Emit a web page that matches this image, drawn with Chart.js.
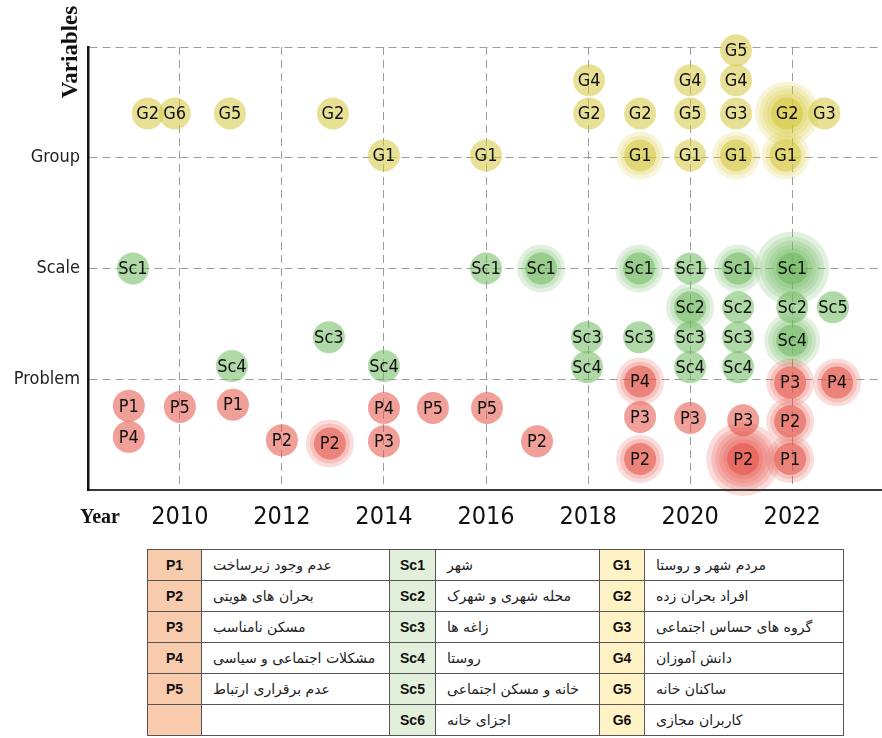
<!DOCTYPE html>
<html>
<head>
<meta charset="utf-8">
<script src="https://cdn.jsdelivr.net/npm/chart.js@4"></script>
<style>
  body { margin: 0; background: #fff; width: 882px; height: 738px; overflow: hidden; position: relative; }
  #wrap { position: absolute; left: 0; top: 0; width: 882px; height: 545px; }
  #legend { position: absolute; left: 147px; top: 549px; border-collapse: collapse; table-layout: fixed; }
  #legend td { border: 1px solid #555; height: 30px; padding: 0; }
  #legend td.code { font: bold 14px "Liberation Sans", Arial, sans-serif; text-align: center; color: #111; }
  #legend td.name { font: 14px "DejaVu Sans", sans-serif; direction: rtl; text-align: left; padding-left: 11px; color: #222; }
  #legend td.p { background: #f8cbad; }
  #legend td.sc { background: #e2efda; }
  #legend td.g { background: #fff2c4; }
</style>
</head>
<body>
<div id="wrap"><canvas id="chart"></canvas></div>
<table id="legend">
  <colgroup>
    <col style="width:54px"><col style="width:188px">
    <col style="width:46px"><col style="width:164px">
    <col style="width:45px"><col style="width:199px">
  </colgroup>
  <tbody id="legendBody"></tbody>
</table>
<script>
// y levels: 0 bottom, 1 Problem, 2 Scale, 3 Group, 4 top
const levelNames = ['', 'Problem', 'Scale', 'Group', '']
const yearTicks = [2010, 2012, 2014, 2016, 2018, 2020, 2022]

// Problem (red)
const problemLabels  = ['P1', 'P4', 'P5', 'P1', 'P2', 'P2', 'P4', 'P3', 'P5', 'P5', 'P2', 'P4', 'P3', 'P2', 'P3', 'P3', 'P2', 'P3', 'P2', 'P1', 'P4']
const problemYears   = [2009.0, 2009.0, 2010.0, 2011.04, 2012.0, 2012.94, 2014.0, 2014.0, 2014.96, 2016.02, 2017.0, 2019.02, 2019.02, 2019.02, 2020.0, 2021.04, 2021.04, 2021.96, 2021.96, 2021.96, 2022.88]
const problemLevels  = [0.76, 0.48, 0.75, 0.77, 0.45, 0.42, 0.74, 0.44, 0.74, 0.74, 0.44, 0.98, 0.66, 0.28, 0.65, 0.63, 0.28, 0.97, 0.62, 0.28, 0.97]
const problemWeights = [1, 1, 1, 1, 1, 3, 1, 1, 1, 1, 1, 3, 1, 3, 1, 1, 6, 3, 3, 3, 3]

// Scale (green)
const scaleLabels  = ['Sc1', 'Sc4', 'Sc3', 'Sc4', 'Sc1', 'Sc1', 'Sc3', 'Sc4', 'Sc1', 'Sc3', 'Sc1', 'Sc2', 'Sc3', 'Sc4', 'Sc1', 'Sc2', 'Sc3', 'Sc4', 'Sc1', 'Sc2', 'Sc4', 'Sc5']
const scaleYears   = [2009.08, 2011.02, 2012.92, 2014.0, 2016.0, 2017.08, 2017.98, 2017.98, 2019.0, 2019.0, 2020.0, 2020.0, 2020.0, 2020.0, 2020.94, 2020.94, 2020.94, 2020.94, 2022.0, 2022.0, 2022.0, 2022.8]
const scaleLevels  = [2.0, 1.12, 1.38, 1.12, 2.0, 2.0, 1.38, 1.11, 2.0, 1.38, 2.0, 1.65, 1.38, 1.11, 2.0, 1.65, 1.38, 1.11, 2.0, 1.65, 1.35, 1.65]
const scaleWeights = [1, 1, 1, 1, 1, 3, 1, 1, 3, 1, 1, 3, 1, 1, 3, 1, 1, 1, 6, 1, 4, 1]

// Group (yellow)
const groupLabels  = ['G2', 'G6', 'G5', 'G2', 'G1', 'G1', 'G4', 'G2', 'G2', 'G1', 'G4', 'G5', 'G1', 'G5', 'G4', 'G3', 'G1', 'G2', 'G3', 'G1']
const groupYears   = [2009.37, 2009.9, 2010.98, 2013.0, 2014.0, 2016.0, 2018.02, 2018.02, 2019.02, 2019.02, 2020.0, 2020.0, 2020.0, 2020.9, 2020.9, 2020.9, 2020.9, 2021.9, 2022.63, 2021.87]
const groupLevels  = [3.4, 3.4, 3.4, 3.4, 3.02, 3.02, 3.7, 3.4, 3.4, 3.02, 3.7, 3.4, 3.02, 3.97, 3.7, 3.4, 3.02, 3.4, 3.4, 3.02]
const groupWeights = [1, 1, 1, 1, 1, 1, 1, 1, 1, 3, 1, 1, 1, 1, 1, 1, 3, 5, 1, 3]

// legend table
const problemCodes = ['P1', 'P2', 'P3', 'P4', 'P5', '']
const problemNames = ['عدم وجود زیرساخت', 'بحران های هویتی', 'مسکن نامناسب', 'مشکلات اجتماعی و سیاسی', 'عدم برقراری ارتباط', '']
const scaleCodes = ['Sc1', 'Sc2', 'Sc3', 'Sc4', 'Sc5', 'Sc6']
const scaleNames = ['شهر', 'محله شهری و شهرک', 'زاغه ها', 'روستا', 'خانه و مسکن اجتماعی', 'اجزای خانه']
const groupCodes = ['G1', 'G2', 'G3', 'G4', 'G5', 'G6']
const groupNames = ['مردم شهر و روستا', 'افراد بحران زده', 'گروه های حساس اجتماعی', 'دانش آموزان', 'ساکنان خانه', 'کاربران مجازی']

const tbody = document.getElementById('legendBody')
problemCodes.forEach((_, i) => {
  const tr = document.createElement('tr')
  const cells = [
    ['code p', problemCodes[i]], ['name', problemNames[i]],
    ['code sc', scaleCodes[i]], ['name', scaleNames[i]],
    ['code g', groupCodes[i]], ['name', groupNames[i]],
  ]
  cells.forEach(([cls, text]) => {
    const td = document.createElement('td')
    td.className = cls
    td.textContent = text
    tr.appendChild(td)
  })
  tbody.appendChild(tr)
})

const narrow = '"DejaVu Sans Condensed", "Liberation Sans Narrow", sans-serif'
const layerRadius = [16, 20, 24, 28, 32, 37]

const series = [
  { labels: problemLabels, years: problemYears, levels: problemLevels, weights: problemWeights, rgb: '228,82,70' },
  { labels: scaleLabels, years: scaleYears, levels: scaleLevels, weights: scaleWeights, rgb: '112,186,96' },
  { labels: groupLabels, years: groupYears, levels: groupLevels, weights: groupWeights, rgb: '214,200,62' },
]

// each bubble = a solid core + fainter rings, one dataset per ring size
const datasets = []
series.forEach((s) => {
  for (let k = layerRadius.length - 1; k >= 0; k--) {
    const idx = s.years.map((_, i) => i).filter((i) => s.weights[i] > k)
    if (!idx.length) continue
    datasets.push({
      layer: k,
      names: idx.map((i) => s.labels[i]),
      data: idx.map((i) => ({ x: s.years[i], y: s.levels[i], r: layerRadius[k] })),
      backgroundColor: `rgba(${s.rgb},${k === 0 ? 0.55 : 0.2})`,
      borderWidth: 0,
      hoverBorderWidth: 0,
      clip: false,
    })
  }
})

const bubbleText = {
  id: 'bubbleText',
  afterDatasetsDraw(chart) {
    const ctx = chart.ctx
    ctx.save()
    ctx.font = '18px ' + narrow
    ctx.textAlign = 'center'
    ctx.textBaseline = 'middle'
    ctx.fillStyle = '#111'
    chart.data.datasets.forEach((ds, i) => {
      if (ds.layer !== 0) return
      chart.getDatasetMeta(i).data.forEach((el, j) => ctx.fillText(ds.names[j], el.x, el.y + 1))
    })
    ctx.restore()
  },
  afterDraw(chart) {
    const ctx = chart.ctx
    ctx.save()
    ctx.fillStyle = '#111'
    ctx.font = 'bold 20px "Liberation Serif", "Times New Roman", serif'
    ctx.textAlign = 'left'
    ctx.textBaseline = 'middle'
    ctx.fillText('Year', 80, 518)
    ctx.translate(71, 52)
    ctx.rotate(-Math.PI / 2)
    ctx.font = 'bold 23px "Liberation Serif", "Times New Roman", serif'
    ctx.textAlign = 'center'
    ctx.fillText('Variables', 0, 0)
    ctx.restore()
  },
}

new Chart(document.getElementById('chart'), {
  type: 'bubble',
  data: { datasets },
  options: {
    responsive: true,
    maintainAspectRatio: false,
    animation: false,
    events: [],
    layout: { autoPadding: false, padding: { top: 47, left: 0, right: 0, bottom: 0 } },
    plugins: { legend: { display: false }, tooltip: { enabled: false } },
    scales: {
      x: {
        type: 'linear',
        min: 2008.2,
        max: 2023.76,
        afterBuildTicks: (scale) => { scale.ticks = yearTicks.map((v) => ({ value: v })) },
        afterFit: (scale) => { scale.height = 55 },
        grid: { color: '#9c9c9c', lineWidth: 1, drawTicks: false },
        border: { display: true, color: '#3a3a3a', width: 2, dash: [8, 5], z: 1 },
        ticks: {
          color: '#111',
          font: { family: narrow, size: 25 },
          padding: 12,
          maxRotation: 0,
          autoSkip: false,
          callback: (v) => String(v),
        },
      },
      y: {
        min: 0,
        max: 4,
        afterBuildTicks: (scale) => { scale.ticks = [0, 1, 2, 3, 4].map((v) => ({ value: v })) },
        afterFit: (scale) => { scale.width = 88 },
        grid: { color: '#9c9c9c', lineWidth: 1, drawTicks: false },
        border: { display: true, color: '#111', width: 2.5, dash: [8, 5], z: 1 },
        ticks: {
          color: '#222',
          font: { family: narrow, size: 18 },
          padding: 8,
          autoSkip: false,
          callback: (v) => levelNames[v] || '',
        },
      },
    },
  },
  plugins: [bubbleText],
})
</script>
</body>
</html>
